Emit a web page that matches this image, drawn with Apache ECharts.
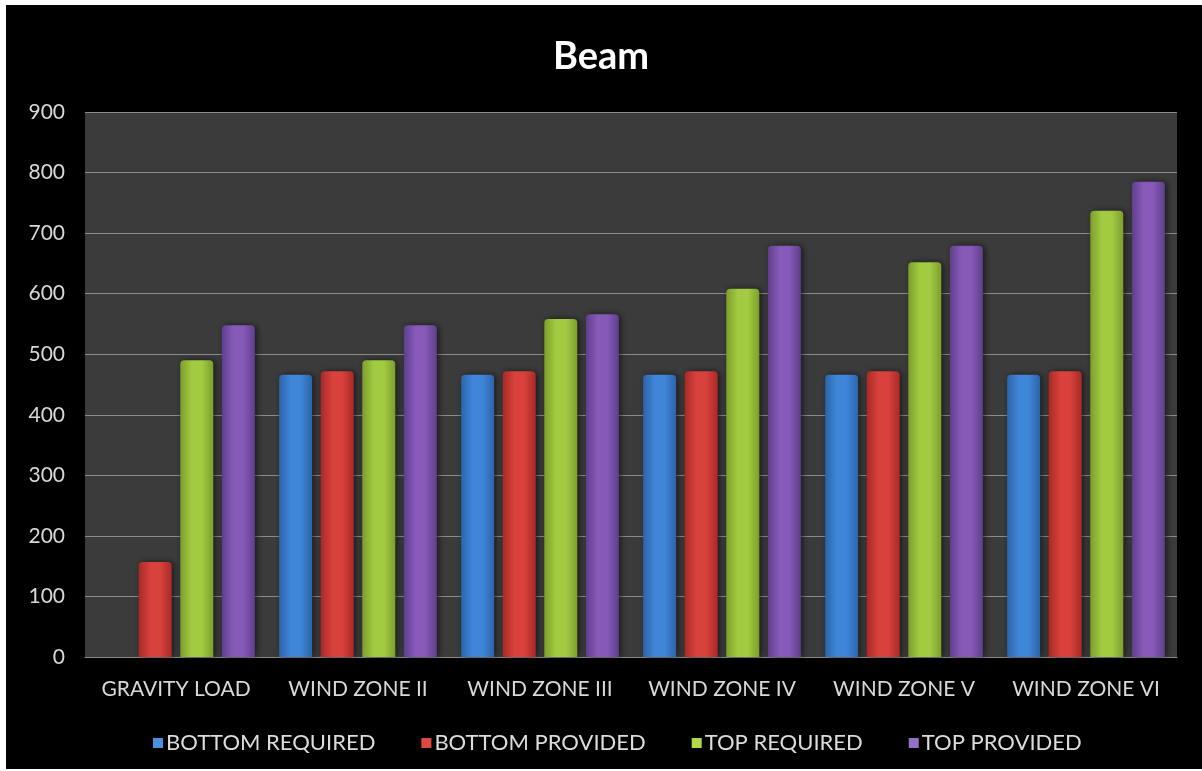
<!DOCTYPE html>
<html><head><meta charset="utf-8">
<script src="https://cdn.jsdelivr.net/npm/echarts@6/dist/echarts.min.js"></script>
<style>
html,body{margin:0;padding:0;background:#fff;width:1202px;height:771px;overflow:hidden;}
#frame{position:absolute;left:6px;top:5px;width:1196px;height:764px;background:#000;}
#chart{position:absolute;left:0;top:0;width:1202px;height:771px;}
</style></head>
<body>
<div id="frame"></div>
<div id="chart"></div>
<script>
const categories = ['GRAVITY LOAD','WIND ZONE II','WIND ZONE III','WIND ZONE IV','WIND ZONE V','WIND ZONE VI'];
const bottomRequired = [0, 466, 466, 466, 466, 466];
const bottomProvided = [157, 472, 472, 472, 472, 472];
const topRequired = [490, 490, 558, 608, 652, 737];
const topProvided = [548, 548, 566, 679, 679, 785];
const seriesNames = ['BOTTOM REQUIRED','BOTTOM PROVIDED','TOP REQUIRED','TOP PROVIDED'];
const yTicks = [0,100,200,300,400,500,600,700,800,900];

const FONT = 'Lato, "Open Sans", sans-serif';
function grad(edge, mid){
  return new echarts.graphic.LinearGradient(0,0,1,0,[
    {offset:0,color:edge},{offset:0.35,color:mid},{offset:0.65,color:mid},{offset:1,color:edge}
  ]);
}
const palette = [
  {edge:'#2c64aa', mid:'#3f86d8', legend:'#4a8fe0'},
  {edge:'#a82a27', mid:'#d8413c', legend:'#e04842'},
  {edge:'#7d9e2c', mid:'#a3cb42', legend:'#b5d84a'},
  {edge:'#5e3f8c', mid:'#8759b8', legend:'#9070c8'}
];
const dataSets = [bottomRequired, bottomProvided, topRequired, topProvided];

const chart = echarts.init(document.getElementById('chart'), null, {renderer:'canvas'});
chart.setOption({
  backgroundColor:'transparent',
  animation:false,
  title:{text:'Beam', left:'center', top:33, textStyle:{color:'#ffffff', fontSize:38, fontWeight:'bold', fontFamily:FONT}},
  grid:{left:85, right:25, top:112, bottom:114, show:true, backgroundColor:'#3b3b3b', borderWidth:0},
  legend:{bottom:12, left:148, itemWidth:10, itemHeight:10, itemGap:46, icon:'rect',
    textStyle:{color:'#dcdcdc', fontSize:22, fontFamily:FONT, padding:[0,0,0,-2]},
    data: seriesNames.map((n,i)=>({name:n, itemStyle:{color:palette[i].legend}}))
  },
  xAxis:{type:'category', data:categories,
    axisLine:{show:true, lineStyle:{color:'#8a8a8a', width:1}},
    axisTick:{show:false},
    axisLabel:{color:'#d8d8d8', fontSize:21, fontFamily:FONT, margin:22, interval:0, hideOverlap:false}
  },
  yAxis:{type:'value', min:0, max:900, interval:100,
    axisLine:{show:false}, axisTick:{show:false},
    axisLabel:{color:'#d8d8d8', fontSize:21, fontFamily:FONT, margin:20,
      formatter:v=> yTicks.includes(v)? String(v):''},
    splitLine:{lineStyle:{color:'#8c8c8c', width:1}}
  },
  series: seriesNames.map((n,i)=>({
    name:n, type:'bar', data:dataSets[i], barWidth:33, barGap:'26%',
    itemStyle:{color:grad(palette[i].edge, palette[i].mid), borderRadius:[4,4,0,0],
      shadowColor:'rgba(0,0,0,0.6)', shadowBlur:6, shadowOffsetX:2}
  }))
});
</script>
</body></html>
